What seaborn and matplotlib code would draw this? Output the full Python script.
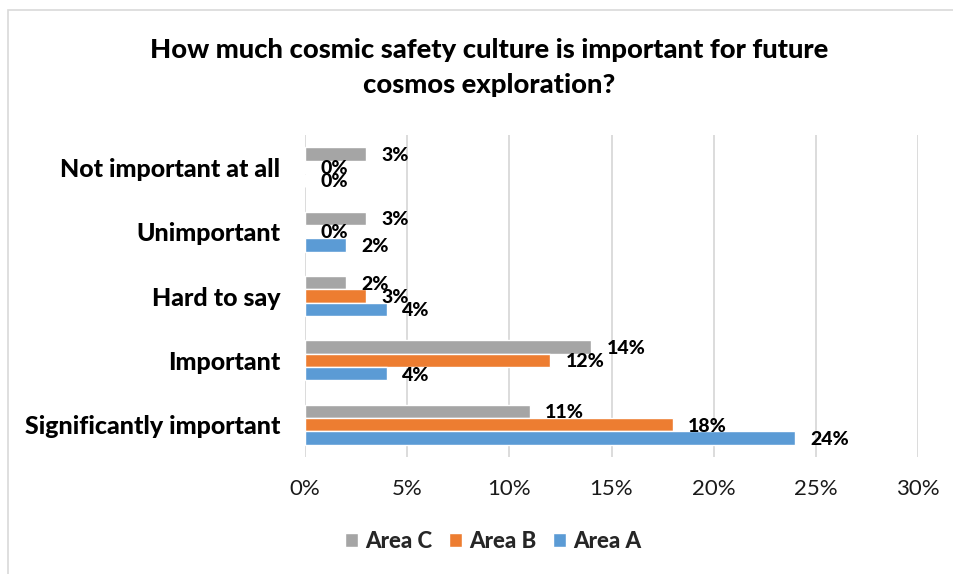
import matplotlib
matplotlib.use("Agg")
import matplotlib.pyplot as plt
from matplotlib.patches import Rectangle
from matplotlib.ticker import PercentFormatter, MultipleLocator
import seaborn as sns
import pandas as pd

# Survey answers, listed top to bottom
categories = ["Not important at all", "Unimportant", "Hard to say",
              "Important", "Significantly important"]
area_c = [3, 3, 2, 14, 11]
area_b = [0, 0, 3, 12, 18]
area_a = [0, 2, 4, 4, 24]
series_names = ["Area C", "Area B", "Area A"]
colors = ["#A5A5A5", "#ED7D31", "#5B9BD5"]

df = pd.DataFrame({
    "answer": categories * 3,
    "area": [n for n in series_names for _ in categories],
    "share": area_c + area_b + area_a,
})

sns.set_theme(style="white")
plt.rcParams["font.family"] = ["Lato", "DejaVu Sans"]

fig = plt.figure(figsize=(9.54, 5.74), dpi=100)
ax = fig.add_axes([305 / 954, 1 - 457 / 574, (918 - 305) / 954, (457 - 135) / 574])

sns.barplot(data=df, y="answer", x="share", hue="area", order=categories,
            hue_order=series_names, palette=colors, orient="h",
            width=0.62, saturation=1, ax=ax, legend=True)

ax.set_xlim(0, 30)
ax.xaxis.set_major_locator(MultipleLocator(5))
ax.xaxis.set_major_formatter(PercentFormatter(xmax=100, decimals=0))
ax.grid(axis="x", color="#D9D9D9", linewidth=1.3)
ax.set_axisbelow(True)
for s in ax.spines.values():
    s.set_visible(False)
ax.set_xlabel("")
ax.set_ylabel("")
ax.tick_params(axis="x", length=0, pad=16, labelsize=16, labelcolor="#1a1a1a")
ax.tick_params(axis="y", length=0, pad=18, labelsize=18, labelcolor="#000000")
for lbl in ax.get_yticklabels():
    lbl.set_fontweight("black")

# Value labels next to each bar end
for container, values in zip(ax.containers, [area_c, area_b, area_a]):
    for patch, v in zip(container.patches, values):
        yc = patch.get_y() + patch.get_height() / 2
        ax.annotate(f"{v}%", xy=(v, yc), xytext=(11, -1),
                    textcoords="offset points", ha="left", va="center",
                    fontsize=14, fontweight="black", color="#000000",
                    annotation_clip=False)

leg = ax.legend(loc="center", bbox_to_anchor=(493 / 954, 1 - 541 / 574),
                bbox_transform=fig.transFigure, ncol=3, frameon=False,
                handlelength=0.6, handleheight=0.6, handletextpad=0.3,
                columnspacing=0.75, prop={"weight": "black", "size": 16})
for t in leg.get_texts():
    t.set_fontweight("black")

title_kw = dict(ha="center", va="center", fontsize=19.7, fontweight="black",
                color="#000000")
fig.text(489 / 954, 1 - 50 / 574,
         "How much cosmic safety culture is important for future", **title_kw)
fig.text(489 / 954, 1 - 85 / 574, "cosmos exploration?", **title_kw)

fig.add_artist(Rectangle((8 / 954, -0.1), 2, 1.1 - 10 / 574, transform=fig.transFigure,
                         fill=False, edgecolor="#D9D9D9", linewidth=1.2))

fig.savefig("out.png", dpi=100, facecolor="white")
